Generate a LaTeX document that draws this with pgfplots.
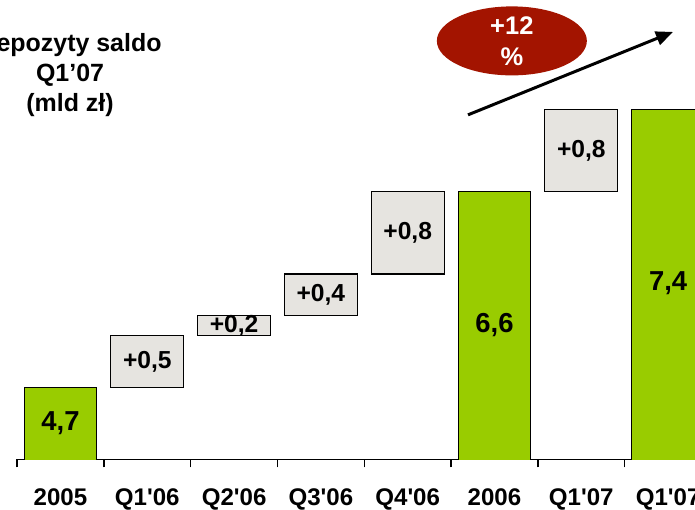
\documentclass[border=0pt]{standalone}
\usepackage{fontspec}
\setmainfont{Liberation Sans}[Ligatures=TeXOff]
\usepackage{pgfplots}
\pgfplotsset{compat=1.18}
\usetikzlibrary{arrows.meta}
\definecolor{barGreen}{HTML}{99CC00}
\definecolor{barGray}{HTML}{E6E4E0}
\definecolor{ovalRed}{HTML}{A31400}

\begin{document}
\begin{tikzpicture}
\pgfplotsset{commonaxis/.style={scale only axis, width=13.558cm, height=9.188cm,
  xmin=-0.5, xmax=7.31, ymin=4, ymax=8.46}}
\begin{axis}[commonaxis,
  ybar stacked, bar width=0.84,
  axis x line*=bottom, axis y line=none,
  xtick={0,1,2,3,4,5,6,7},
  xticklabels={2005,Q1'06,Q2'06,Q3'06,Q4'06,2006,Q1'07,Q1'07},
  major tick length=0pt,
  minor xtick={-0.5,0.5,1.5,2.5,3.5,4.5,5.5,6.5},
  minor tick length=0.16cm,
  tick align=outside,
  axis line style={line width=0.8pt, black},
  every tick/.style={black, line width=0.8pt},
  xticklabel style={anchor=base, yshift=-0.93cm, font=\bfseries\fontsize{13.7}{16}\selectfont},
]
% invisible base
\addplot[draw=none, fill=none] coordinates {(0,0) (1,4.7) (2,5.2) (3,5.4) (4,5.8) (5,0) (6,6.6) (7,0)};
% increments
\addplot[draw=black, line width=0.6pt, fill=barGray] coordinates {(0,0) (1,0.5) (2,0.2) (3,0.4) (4,0.8) (5,0) (6,0.8) (7,0)};
% totals
\addplot[draw=black, line width=0.6pt, fill=barGreen] coordinates {(0,4.7) (1,0) (2,0) (3,0) (4,0) (5,6.6) (6,0) (7,7.4)};
\coordinate (bbsw) at (axis cs:-0.697,3.51);
\coordinate (bbne) at (axis cs:7.31,8.46);
\end{axis}

\begin{axis}[commonaxis, hide axis, clip=false]
\addplot[only marks, mark=none, nodes near coords, point meta=explicit symbolic,
  every node near coord/.append style={anchor=center, font=\bfseries\fontsize{15.6}{18}\selectfont}]
  coordinates {(0,4.35) [4,7] (5,5.3) [6,6] (7,5.71) [7,4]};
\addplot[only marks, mark=none, nodes near coords, point meta=explicit symbolic,
  every node near coord/.append style={anchor=center, font=\bfseries\fontsize{14}{16}\selectfont}]
  coordinates {(1,4.95) [+0,5] (2,5.3) [+0,2] (3,5.6) [+0,4] (4,6.2) [+0,8] (6,7.0) [+0,8]};
\node[align=center, font=\bfseries\fontsize{14.2}{17}\selectfont] at (axis cs:0.11,7.73)
  {Depozyty saldo\\Q1’07\\(mld zł)};
\fill[ovalRed] (axis cs:5.2,8.063) ellipse [x radius=1.5cm, y radius=0.69cm];
\node[align=center, text=white, font=\bfseries\fontsize{14.5}{17.6}\selectfont] at (axis cs:5.2,8.063) {+12\\\%};
\draw[line width=1.7pt, -{Triangle[length=0.34cm,width=0.28cm]}] (axis cs:4.695,7.345) -- (axis cs:7.056,8.15);
\end{axis}
\pgfresetboundingbox
\path[use as bounding box] (bbsw) rectangle (bbne);
\end{tikzpicture}
\end{document}
